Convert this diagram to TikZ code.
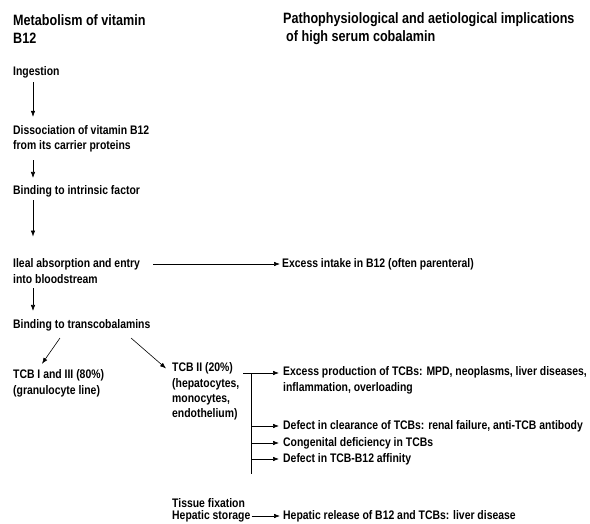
\documentclass[tikz,border=0pt]{standalone}
\usepackage{fontspec}
\setmainfont{Liberation Sans}[FakeStretch=0.84]
\usetikzlibrary{arrows.meta}

\begin{document}
\begin{tikzpicture}[x=1pt,y=-1pt,
	txt/.style={anchor=west, inner sep=0pt, align=left, font=\bfseries\fontsize{12.4}{15.4}\selectfont},
	head/.style={anchor=west, inner sep=0pt, align=left, font=\bfseries\fontsize{15}{18}\selectfont},
	arr/.style={->,>={Latex[length=6pt,width=4.5pt]}, line width=0.6pt}]
	\useasboundingbox (0,0) rectangle (590,524);
	% headings
	\node[head] (metab) at (13,29) {Metabolism of vitamin\\B12};
	\node[head] (patho) at (283,29) {Pathophysiological and aetiological implications\\\hspace{3pt}of high serum cobalamin};
	
	% metabolism of B12
	\node[txt] (ingest) at (13,72) {Ingestion};
	\node[txt] (dissoc) at (13,138.5) {Dissociation of vitamin B12\\from its carrier proteins};
	\node[txt] (intrinsic) at (13,191) {Binding to intrinsic factor};
	\node[txt] (ileal) at (13,271) {Ileal absorption and entry\\into bloodstream};
	\node[txt] (trans) at (13,325) {Binding to transcobalamins};
	\node[txt] (tcbone) at (13,383.5) {TCB I and III (80\%)\\(granulocyte line)};
	\node[txt] (tcbtwo) at (172,391.5) {TCB II (20\%)\\(hepatocytes,\\monocytes,\\endothelium)};
	\node[txt] (tissue) at (172,503) {Tissue fixation};
	\node[txt] (storage) at (172,516) {Hepatic storage};
	
	% implications
	\node[txt] (intake) at (282,264) {Excess intake in B12 (often parenteral)};
	\node[txt] (excess) at (283,380.5) {Excess production of TCBs: MPD, neoplasms, liver diseases,\\inflammation, overloading};
	\node[txt] (clear) at (283,426) {Defect in clearance of TCBs: renal failure, anti-TCB antibody};
	\node[txt] (congen) at (283,443) {Congenital deficiency in TCBs};
	\node[txt] (affin) at (283,459) {Defect in TCB-B12 affinity};
	\node[txt] (release) at (283,516) {Hepatic release of B12 and TCBs: liver disease};
	
	\coordinate (bustop) at (251,373);
	\coordinate (busbot) at (251,474);
	
	\draw[arr, shorten <=4pt, shorten >=8pt] ([xshift=20pt]ingest.south west) -- ([xshift=20pt]dissoc.north west);
	\draw[arr, shorten <=8pt, shorten >=7pt] ([xshift=20pt]dissoc.south west) -- ([xshift=20pt]intrinsic.north west);
	\draw[arr, shorten <=3pt, shorten >=22pt] ([xshift=20pt]intrinsic.south west) -- ([xshift=20pt]ileal.north west);
	\draw[arr, shorten <=5pt, shorten >=8pt] ([xshift=20pt]ileal.south west) -- ([xshift=20pt]trans.north west);
	\draw[arr, shorten <=13pt, shorten >=2pt] (ileal.east |- intake.west) -- (intake.west);
	\draw[arr] ([xshift=47pt,yshift=-7pt]trans.south west) -- ([xshift=29pt,yshift=6pt]tcbone.north west);
	\draw[arr] ([xshift=118pt,yshift=-7pt]trans.south west) -- ([xshift=-6pt,yshift=-6pt]tcbtwo.north west);
	
	\draw[line width=0.6pt] (bustop) -- (busbot);
	\draw[arr, shorten >=4pt] ([xshift=-8pt]bustop) -- (bustop -| excess.west);
	\draw[arr, shorten >=4pt] (bustop |- clear.west) -- (clear.west);
	\draw[arr, shorten >=4pt] (bustop |- congen.west) -- (congen.west);
	\draw[arr, shorten >=4pt] (bustop |- affin.west) -- (affin.west);
	\draw[arr, shorten <=1pt, shorten >=3pt] (storage.east) -- (release.west);
\end{tikzpicture}
\end{document}
